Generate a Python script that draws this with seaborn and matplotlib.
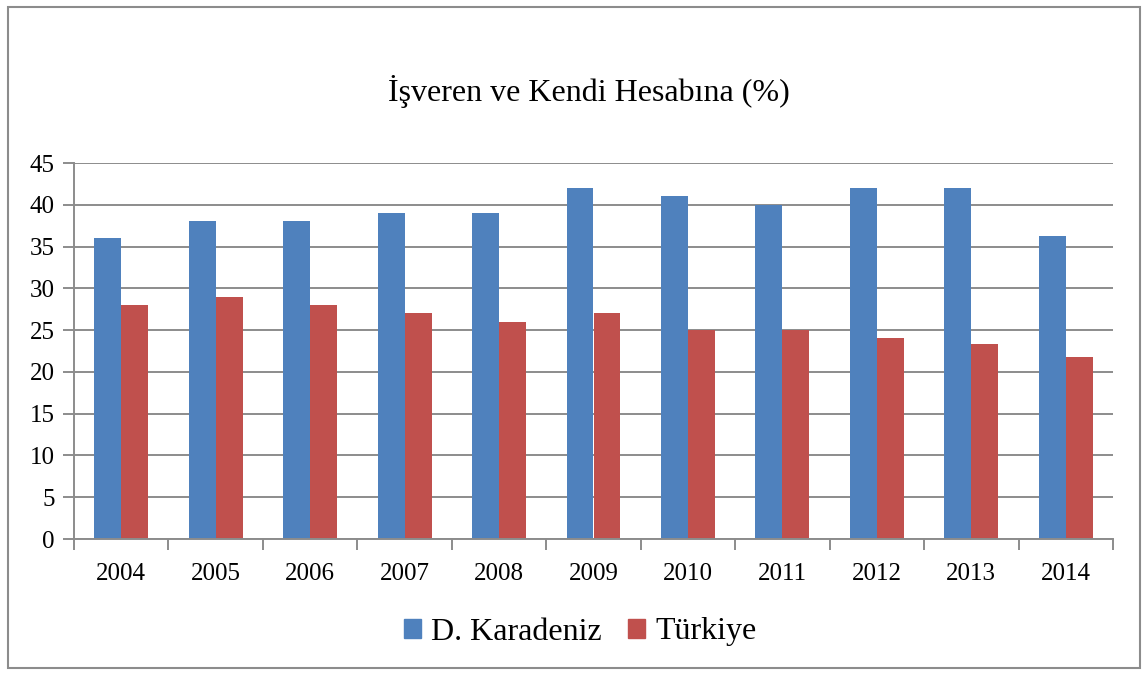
import numpy as np
import pandas as pd
import matplotlib
matplotlib.use("Agg")
import matplotlib.pyplot as plt
import seaborn as sns
from matplotlib.patches import Rectangle

# data
years = ["2004", "2005", "2006", "2007", "2008", "2009", "2010", "2011", "2012", "2013", "2014"]
karadeniz = [36, 38, 38, 39, 39, 42, 41, 40, 42, 42, 36.3]
turkiye = [28, 29, 28, 27, 26, 27, 25, 25, 24, 23.3, 21.8]
series_names = ["D. Karadeniz", "Türkiye"]
title = "İşveren ve Kendi Hesabına (%)"
y_ticks = [0, 5, 10, 15, 20, 25, 30, 35, 40, 45]

df = pd.DataFrame({
    "year": years * 2,
    "value": karadeniz + turkiye,
    "series": [series_names[0]] * len(years) + [series_names[1]] * len(years),
})

sns.set_style("white")
plt.rcParams["font.family"] = ["Liberation Serif", "DejaVu Serif"]
plt.rcParams["text.color"] = "black"
plt.rcParams["xtick.color"] = "black"
plt.rcParams["ytick.color"] = "black"

fig = plt.figure(figsize=(11.46, 6.75), dpi=100)
ax = fig.add_axes([74 / 1146, 1 - 539 / 675, (1113 - 74) / 1146, (539 - 163) / 675])

# outer frame like the office chart border
fig.patches.append(Rectangle((8 / 1146, 7 / 675), 1132 / 1146, 661 / 675,
                             transform=fig.transFigure, fill=False,
                             edgecolor="#8c8c8c", linewidth=1.5))

palette = {series_names[0]: "#4F81BD", series_names[1]: "#C0504D"}
sns.barplot(data=df, x="year", y="value", hue="series", palette=palette,
            width=0.57, gap=0, saturation=1, linewidth=0, ax=ax, legend=False)

ax.set_xlim(-0.5, len(years) - 0.5)
ax.set_ylim(0, 45)
ax.set_yticks(y_ticks)
ax.yaxis.grid(True, color="#8c8c8c", linewidth=1.4)
ax.set_axisbelow(True)
ax.set_xlabel("")
ax.set_ylabel("")

for s in ["top", "right"]:
    ax.spines[s].set_visible(False)
for s in ["left", "bottom"]:
    ax.spines[s].set_color("#8c8c8c")
    ax.spines[s].set_linewidth(1.4)

ax.tick_params(axis="y", left=True, length=8, width=1.4, color="#8c8c8c",
               labelcolor="black", labelsize=18, pad=6)
ax.tick_params(axis="x", which="major", length=0, labelcolor="black", labelsize=18, pad=17)
ax.set_xticks(np.arange(-0.5, len(years)), minor=True)
ax.tick_params(axis="x", which="minor", bottom=True, length=8, width=1.4, color="#8c8c8c")

fig.text(589 / 1146, 1 - 92 / 675, title, ha="center", va="center", fontsize=23, color="black")

handles = [Rectangle((0, 0), 1, 1, color=palette[n]) for n in series_names]
leg = fig.legend(handles, series_names, loc="center", bbox_to_anchor=(580 / 1146, 1 - 632 / 675),
                 ncol=2, frameon=False, fontsize=23, handlelength=0.55, handleheight=0.55,
                 handletextpad=0.3, columnspacing=0.82)
for t in leg.get_texts():
    t.set_color("black")

fig.savefig("out.png", dpi=100)
